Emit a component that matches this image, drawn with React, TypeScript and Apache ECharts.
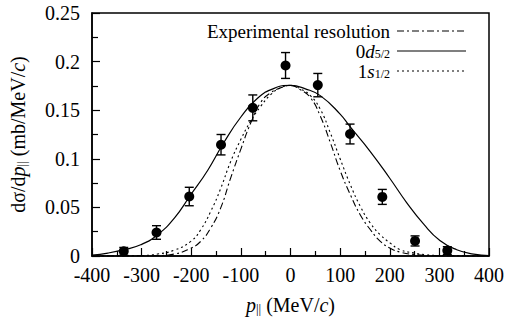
import React, { useEffect, useRef } from "react";
import * as echarts from "echarts";

// Measured data points
const pointX = [-336, -270, -204, -140, -76, -10, 55, 120, 185, 251, 316];
const pointY = [0.0048, 0.0242, 0.0612, 0.1145, 0.1524, 0.196, 0.1758, 0.1255, 0.0608, 0.0155, 0.0056];
const pointErr = [0.004, 0.007, 0.0095, 0.0105, 0.0133, 0.0133, 0.012, 0.0102, 0.0077, 0.0052, 0.004];

// 0d5/2 calculation (solid)
const d52X = [-400, -368, -335, -302, -268, -234, -201, -167, -134, -100, -67, -33, 0, 30, 60, 100, 120, 160, 200, 234, 268, 301, 335, 369, 400];
const d52Y = [0.001, 0.003, 0.0065, 0.0115, 0.0218, 0.039, 0.063, 0.088, 0.117, 0.143, 0.162, 0.1725, 0.1755, 0.172, 0.165, 0.146, 0.133, 0.108, 0.08, 0.055, 0.033, 0.016, 0.0065, 0.002, 0.0005];

// 1s1/2 calculation (dotted)
const s12X = [-400, -300, -268, -234, -201, -181, -161, -141, -121, -100, -80, -60, -40, -20, 0, 20, 40, 60, 80, 100, 121, 141, 161, 181, 201, 221, 250, 270, 300, 400];
const s12Y = [0, 0.0005, 0.002, 0.006, 0.015, 0.027, 0.0456, 0.069, 0.0966, 0.12, 0.139, 0.154, 0.166, 0.173, 0.1755, 0.172, 0.165, 0.151, 0.127, 0.1, 0.0728, 0.0507, 0.0337, 0.0218, 0.0133, 0.0065, 0.003, 0.0015, 0.0005, 0];

// Experimental resolution (dash-dot)
const resX = [-400, -268, -234, -201, -181, -161, -141, -121, -100, -80, -60, -40, -20, 0, 20, 40, 60, 80, 100, 121, 141, 161, 181, 201, 221, 250, 280, 400];
const resY = [0, 0.0005, 0.002, 0.008, 0.015, 0.0286, 0.049, 0.0796, 0.11, 0.137, 0.158, 0.168, 0.173, 0.1755, 0.171, 0.163, 0.144, 0.117, 0.088, 0.0626, 0.042, 0.027, 0.015, 0.008, 0.004, 0.0015, 0.0005, 0];

const xTicks = { min: -400, max: 400, interval: 100 };
const yTicks = { min: 0, max: 0.25, interval: 0.05 };

const FONT = "'Liberation Serif', 'Times New Roman', serif";
const FS = 20;
const LFS = 19;

const zip = (xs: number[], ys: number[]) => xs.map((x, i) => [x, ys[i]]);

export default function App() {
  const ref = useRef<HTMLDivElement>(null);
  useEffect(() => {
    if (!ref.current) return;
    const chart = echarts.init(ref.current, undefined, { renderer: "svg" });
    const mkRich = (fs: number, sfs: number) => ({
      i: { fontFamily: FONT, fontSize: fs, fontStyle: "italic", color: "#000", lineHeight: 18 },
      sub: { fontFamily: FONT, fontSize: sfs, color: "#000", verticalAlign: "bottom", lineHeight: 2 },
      n: { fontFamily: FONT, fontSize: fs, color: "#000", lineHeight: 18 },
    });
    const rich = mkRich(FS, 13);
    const lrich = mkRich(LFS, 12);
    const legendRows = [
      { text: "{n|Experimental resolution}", dash: [7, 3, 2, 3] as any, y: 31 },
      { text: "{n|0}{i|d}{sub|5/2}", dash: "solid" as any, y: 51 },
      { text: "{n|1}{i|s}{sub|1/2}", dash: [2, 3] as any, y: 71 },
    ];
    const graphic: any[] = [];
    legendRows.forEach((r) => {
      graphic.push({
        type: "text",
        x: 390,
        y: r.y,
        style: { text: r.text, rich: lrich, align: "right", verticalAlign: "middle", font: `${LFS}px ${FONT}`, fill: "#000" },
      });
      graphic.push({
        type: "line",
        shape: { x1: 397, y1: r.y, x2: 466, y2: r.y },
        style: { stroke: "#000", lineWidth: 1.2, lineDash: r.dash === "solid" ? null : r.dash },
      });
    });

    const errData = pointX.map((x, i) => [x, pointY[i] - pointErr[i], pointY[i] + pointErr[i]]);

    chart.setOption({
      animation: false,
      grid: { left: 91, right: 18, top: 13, bottom: 62, show: true, borderColor: "#000", borderWidth: 1.5, backgroundColor: "transparent" },
      xAxis: {
        type: "value",
        min: xTicks.min,
        max: xTicks.max,
        interval: xTicks.interval,
        axisLine: { show: true, onZero: false, lineStyle: { color: "#000", width: 1.5 } },
        axisTick: { show: true, inside: true, length: 8, lineStyle: { color: "#000", width: 1.2 } },
        minorTick: { show: true, splitNumber: 2, length: 5, lineStyle: { color: "#000", width: 1.2 } },
        splitLine: { show: false },
        axisLabel: { color: "#000", fontFamily: FONT, fontSize: FS, margin: 9 },
        name: "{i|p}{sub|||} {n|(MeV/}{i|c}{n|)}",
        nameLocation: "middle",
        nameGap: 39,
        nameTextStyle: { rich, fontFamily: FONT, fontSize: FS, color: "#000" },
      },
      yAxis: {
        type: "value",
        min: yTicks.min,
        max: yTicks.max,
        interval: yTicks.interval,
        axisLine: { show: true, onZero: false, lineStyle: { color: "#000", width: 1.5 } },
        axisTick: { show: true, inside: true, length: 8, lineStyle: { color: "#000", width: 1.2 } },
        minorTick: { show: true, splitNumber: 2, length: 6, lineStyle: { color: "#000", width: 1.2 } },
        splitLine: { show: false },
        axisLabel: { color: "#000", fontFamily: FONT, fontSize: FS, margin: 12 },
        name: "{n|dσ/d}{i|p}{sub|||} {n|(mb/MeV/}{i|c}{n|)}",
        nameLocation: "middle",
        nameRotate: 90,
        nameGap: 64,
        nameTextStyle: { rich, fontFamily: FONT, fontSize: FS, color: "#000" },
      },
      graphic,
      series: [
        {
          name: "Experimental resolution",
          type: "line",
          data: zip(resX, resY),
          smooth: true,
          showSymbol: false,
          lineStyle: { color: "#000", width: 1.1, type: [7, 3, 2, 3] },
          z: 2,
        },
        {
          name: "0d5/2",
          type: "line",
          data: zip(d52X, d52Y),
          smooth: true,
          showSymbol: false,
          lineStyle: { color: "#000", width: 1.2, type: "solid" },
          z: 2,
        },
        {
          name: "1s1/2",
          type: "line",
          data: zip(s12X, s12Y),
          smooth: true,
          showSymbol: false,
          lineStyle: { color: "#000", width: 1.1, type: [2, 3] },
          z: 2,
        },
        {
          name: "errors",
          type: "custom",
          data: errData,
          z: 3,
          renderItem: (params: any, api: any) => {
            const x = api.value(0);
            const top = api.coord([x, api.value(2)]);
            const bot = api.coord([x, api.value(1)]);
            const w = 4.5;
            const st = { stroke: "#000", lineWidth: 1.4 };
            return {
              type: "group",
              children: [
                { type: "line", shape: { x1: top[0], y1: top[1], x2: bot[0], y2: bot[1] }, style: st },
                { type: "line", shape: { x1: top[0] - w, y1: top[1], x2: top[0] + w, y2: top[1] }, style: st },
                { type: "line", shape: { x1: bot[0] - w, y1: bot[1], x2: bot[0] + w, y2: bot[1] }, style: st },
              ],
            };
          },
        },
        {
          name: "data",
          type: "scatter",
          data: zip(pointX, pointY),
          symbol: "circle",
          symbolSize: 10,
          itemStyle: { color: "#000", opacity: 1 },
          z: 4,
        },
      ],
    });
    return () => chart.dispose();
  }, []);
  return <div ref={ref} style={{ width: 507, height: 320, position: "absolute", left: 0, top: 0 }} />;
}
